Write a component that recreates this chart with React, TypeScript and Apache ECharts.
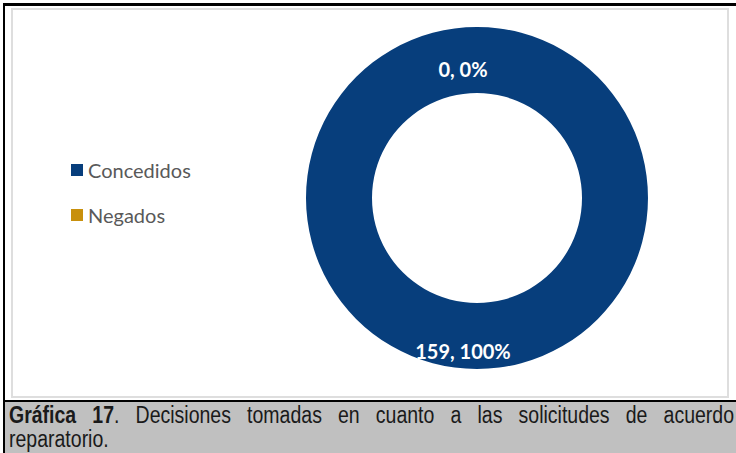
import React, { useEffect, useRef } from "react";
import * as echarts from "echarts";

const categories = ["Concedidos", "Negados"];
const values = [159, 0];
const colors = ["#073e7c", "#c8900c"];
const captionBold = "Gráfica 17";
const captionLine1 = ". Decisiones tomadas en cuanto a las solicitudes de acuerdo";
const captionLine2 = "reparatorio.";

export default function App() {
  const ref = useRef<HTMLDivElement>(null);

  useEffect(() => {
    if (!ref.current) return;
    const chart = echarts.init(ref.current, null, { renderer: "svg" });
    chart.setOption({
      animation: false,
      backgroundColor: "transparent",
      color: colors,
      legend: {
        orient: "vertical",
        left: 66,
        top: 155,
        itemWidth: 12,
        itemHeight: 12,
        itemGap: 25,
        icon: "rect",
        data: categories,
        textStyle: {
          fontFamily: "Lato",
          fontSize: 20,
          color: "#595959",
          lineHeight: 18,
        },
      },
      series: [
        {
          type: "pie",
          center: [477, 198],
          radius: [105, 171],
          startAngle: 90,
          clockwise: true,
          avoidLabelOverlap: false,
          silent: true,
          itemStyle: { borderWidth: 0 },
          label: {
            show: true,
            position: "inside",
            offset: [-14, 12],
            color: "#ffffff",
            fontFamily: "Lato",
            fontWeight: "bold",
            fontSize: 20,
            formatter: (p: any) => `${p.value}, ${Math.round(p.percent)}%`,
          },
          labelLine: { show: false },
          data: categories.map((name, i) => ({ name, value: values[i] })),
        },
      ],
    });
    return () => chart.dispose();
  }, []);

  return (
    <div
      style={{
        position: "fixed",
        left: 0,
        top: 0,
        width: 736,
        height: 453,
        overflow: "hidden",
        background: "#ffffff",
      }}
    >
      {/* outer black frame */}
      <div style={{ position: "absolute", left: 3, top: 3, width: 2, height: 450, background: "#000" }} />
      <div style={{ position: "absolute", left: 3, top: 3, width: 733, height: 3, background: "#000" }} />
      {/* inner chart-area light border */}
      <div
        style={{
          position: "absolute",
          left: 11,
          top: 8,
          width: 714,
          height: 386,
          border: "2px solid #dedede",
        }}
      />
      {/* separator and caption */}
      <div style={{ position: "absolute", left: 5, top: 400, width: 731, height: 2, background: "#000" }} />
      <div style={{ position: "absolute", left: 5, top: 402, width: 731, height: 51, background: "#c0c0c0" }} />
      <div
        style={{
          position: "absolute",
          left: 9,
          top: 403,
          width: 725,
          fontFamily: "'Liberation Sans', Arial, sans-serif",
          fontSize: 19.5,
          lineHeight: "20px",
          color: "#1a1a1a",
          transform: "scaleY(1.18)",
          transformOrigin: "top left",
        }}
      >
        <div style={{ textAlign: "justify", textAlignLast: "justify", whiteSpace: "normal" }}>
          <b>{captionBold}</b>
          {captionLine1}
        </div>
        <div>{captionLine2}</div>
      </div>
      <div ref={ref} style={{ position: "absolute", left: 0, top: 0, width: 736, height: 400 }} />
    </div>
  );
}
